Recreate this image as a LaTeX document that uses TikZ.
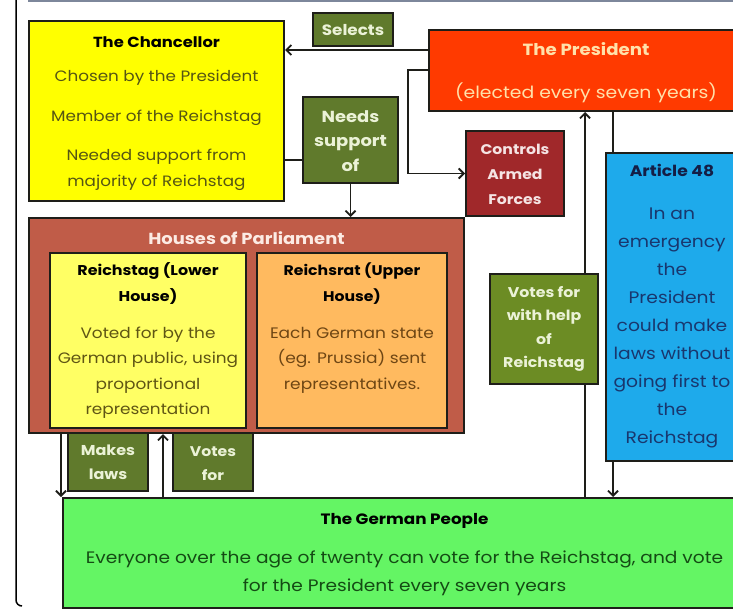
\documentclass[tikz,border=0pt]{standalone}
\usepackage{fontspec}
\setmainfont{Poppins}[FakeStretch=1.12]
\usetikzlibrary{arrows.meta,calc}
\definecolor{edge}{RGB}{30,30,25}
\definecolor{chanfill}{RGB}{255,255,0}
\definecolor{chantext}{RGB}{85,85,20}
\definecolor{lblgreen}{RGB}{96,122,44}
\definecolor{lblgreenB}{RGB}{108,140,36}
\definecolor{lbltext}{RGB}{235,242,215}
\definecolor{presfill}{RGB}{255,58,0}
\definecolor{prestext}{RGB}{255,225,170}
\definecolor{ctrlfill}{RGB}{160,40,42}
\definecolor{ctrltext}{RGB}{245,228,228}
\definecolor{artfill}{RGB}{30,170,235}
\definecolor{arttitle}{RGB}{20,30,70}
\definecolor{arttext}{RGB}{25,55,110}
\definecolor{parlfill}{RGB}{192,92,72}
\definecolor{parltext}{RGB}{252,235,228}
\definecolor{rtagfill}{RGB}{255,255,100}
\definecolor{rtagtext}{RGB}{95,85,20}
\definecolor{rratfill}{RGB}{255,186,95}
\definecolor{rrattext}{RGB}{110,70,20}
\definecolor{peoplefill}{RGB}{100,245,100}
\definecolor{peopletext}{RGB}{20,75,20}
\definecolor{topline}{RGB}{125,135,155}
\newcommand{\fs}[2]{\fontsize{#1}{#2}\selectfont}
\begin{document}
\begin{tikzpicture}[x=1pt,y=-1pt,
  box/.style={draw=edge, line width=2pt, rectangle, inner sep=0pt, anchor=north west},
  txt/.style={align=center, inner sep=0pt},
  lbl/.style={box, fill=lblgreen},
  lbltxt/.style={txt, text=lbltext, font=\bfseries\fs{14.3}{24}},
  conn/.style={draw=edge, line width=1.8pt},
  arr/.style={conn, -{Straight Barb[length=5pt,width=10pt,line width=1.8pt]}}]
\useasboundingbox (0,0) rectangle (733,608);
\clip (0,0) rectangle (733,608);
% frame
\draw[draw=topline, line width=1.5pt] (28,1) -- (745,1);
\draw[draw=black, line width=1.5pt, rounded corners=6pt] (16,-3) -- (16,606) -- (22,606);
% boxes
\node[box, fill=chanfill, minimum width=255, minimum height=180] (chan) at (28,20) {};
\node[txt, text=chantext, font=\fs{15}{26}] (chanT) at ($(chan.center)+(0,3)$)
  {\textbf{\color{black}\fs{14.6}{26}The Chancellor}\\[8pt]Chosen by the President\\[14pt]Member of the Reichstag\\[13pt]Needed support from\\majority of Reichstag};
\node[lbl, minimum width=80, minimum height=33] (sel) at (312,12) {};
\node[lbltxt, font=\bfseries\fs{15}{24}] (selT) at ($(sel.center)+(0,0.5)$) {Selects};
\node[box, fill=presfill, minimum width=314, minimum height=81] (pres) at (428,29) {};
\node[txt, text=prestext, font=\fs{16.8}{26}] (presT) at ($(pres.center)+(0,2.5)$)
  {\textbf{\fs{16.2}{26}The President}\\[17pt](elected every seven years)};
\node[lbl, minimum width=95, minimum height=86] (needs) at (302,96) {};
\node[lbltxt, font=\bfseries\fs{16}{24.5}] (needsT) at ($(needs.center)+(0,1)$) {Needs\\support\\of};
\node[box, fill=ctrlfill, minimum width=98, minimum height=85] (ctrl) at (465,130) {};
\node[txt, text=ctrltext, font=\bfseries\fs{14}{25}] (ctrlT) at ($(ctrl.center)+(0,1)$) {Controls\\Armed\\Forces};
\node[box, fill=artfill, minimum width=138, minimum height=308] (art) at (605,152) {};
\node[txt, text=arttext, font=\fs{16.7}{28}] (artT) at ($(art.center)+(-3,-1)$)
  {\textbf{\color{arttitle}\fs{15.3}{28}Article 48}\\[15pt]In an\\emergency\\the\\President\\could make\\laws without\\going first to\\the\\Reichstag};
\node[box, fill=parlfill, minimum width=435, minimum height=215] (parl) at (28,217) {};
\node[txt, text=parltext, font=\bfseries\fs{16}{20}] (parlT) at (parl.north |- 0,238) {Houses of Parliament};
\node[box, fill=rtagfill, minimum width=196, minimum height=175] (rtag) at (49,252) {};
\node[txt, text=rtagtext, font=\fs{15.1}{25.5}] (rtagT) at ($(rtag.center)+(0,0)$)
  {\textbf{\color{black}\fs{14.2}{25.5}Reichstag (Lower}\\[0.5pt]\textbf{\color{black}\fs{14.2}{25.5}House)}\\[11pt]Voted for by the\\German public, using\\proportional\\representation};
\node[box, fill=rratfill, minimum width=190, minimum height=175] (rrat) at (256,252) {};
\node[txt, text=rrattext, font=\fs{15.2}{25.5}, anchor=north] (rratT) at ($(rrat.north)+(0,11)$)
  {\textbf{\color{black}\fs{14}{25.5}Reichsrat (Upper}\\[0.5pt]\textbf{\color{black}\fs{14}{25.5}House)}\\[11pt]Each German state\\(eg. Prussia) sent\\representatives.};
\node[lbl, minimum width=80, minimum height=58] (laws) at (67,432) {};
\node[lbltxt] (lawsT) at (laws.center) {Makes\\laws};
\node[lbl, minimum width=80, minimum height=58] (vfor) at (172,432) {};
\node[lbltxt, font=\bfseries\fs{14}{24}] (vforT) at ($(vfor.center)+(0,2)$) {Votes\\for};
\node[box, fill=peoplefill, minimum width=683, minimum height=110] (people) at (62,497) {};
\node[txt, text=peopletext, font=\fs{16.6}{28}] (peopleT) at ($(people.center)+(0,2)$)
  {\textbf{\color{black}\fs{15}{28}The German People}\\[11pt]Everyone over the age of twenty can vote for the Reichstag, and vote\\for the President every seven years};
% connectors
\draw[arr] (pres.west |- 0,50) -- (chan.east |- 0,50);
\draw[conn] (chan.east |- 0,160) -- (needs.west |- 0,160);
\draw[arr] (needs.south) -- (needs.south |- parl.north);
\draw[arr] (pres.west |- 0,70) -- (408,70) |- (ctrl.west);
\draw[arr] (people.north -| 585,0) -- (pres.south -| 585,0);
\draw[conn] (pres.south -| 613,0) -- (art.north -| 613,0);
\draw[arr] (art.south -| 613,0) -- (people.north -| 613,0);
\draw[arr] (parl.south -| 61,0) -- (people.north -| 61,0);
\draw[arr] (people.north -| 163,0) -- (parl.south -| 163,0);
% box over the vertical line
\node[lbl, fill=lblgreenB, minimum width=108, minimum height=110] (vhelp) at (489,273) {};
\node[lbltxt, font=\bfseries\fs{14.1}{23.5}] (vhelpT) at (vhelp.center) {Votes for\\with help\\of\\Reichstag};
\end{tikzpicture}
\end{document}
